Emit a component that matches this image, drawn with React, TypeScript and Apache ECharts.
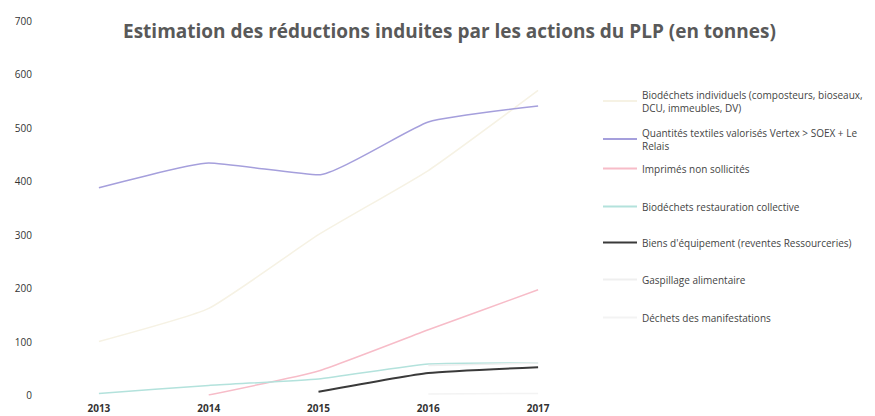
import React, { useEffect, useRef } from "react";
import * as echarts from "echarts";

const years = ["2013", "2014", "2015", "2016", "2017"];
const seriesNames = [
  "Biodéchets individuels (composteurs, bioseaux, DCU, immeubles, DV)",
  "Quantités textiles valorisés Vertex > SOEX + Le Relais",
  "Imprimés non sollicités",
  "Biodéchets restauration collective",
  "Biens d'équipement (reventes Ressourceries)",
  "Gaspillage alimentaire",
  "Déchets des manifestations",
];
const legendLabels = [
  "Biodéchets individuels (composteurs, bioseaux,\nDCU, immeubles, DV)",
  "Quantités textiles valorisés Vertex > SOEX + Le\nRelais",
  "Imprimés non sollicités",
  "Biodéchets restauration collective",
  "Biens d'équipement (reventes Ressourceries)",
  "Gaspillage alimentaire",
  "Déchets des manifestations",
];
const biodechetsIndividuels = [100, 162, 300, 420, 570];
const textiles = [388, 434, 412, 511, 541];
const imprimes = [null, 0, 45, 122, 197];
const biodechetsRestauration = [3, 18, 30, 58, 60];
const biensEquipement = [null, null, 6, 41, 52];
const gaspillage = [null, null, null, 55, 60];
const manifestations = [null, null, null, 2, 3];
const seriesData = [
  biodechetsIndividuels,
  textiles,
  imprimes,
  biodechetsRestauration,
  biensEquipement,
  gaspillage,
  manifestations,
];
const colors = ["#f6f2e4", "#a59fdc", "#f7bcc8", "#b3e2dc", "#3a3a3a", "#efefef", "#f3f3f3"];
const widths = [1.5, 1.5, 1.5, 1.5, 2, 1.5, 1.5];
const yTicks = { min: 0, max: 700, interval: 100 };
const legendTops = [88, 126, 162, 200, 236, 273, 311];

export default function App() {
  const ref = useRef<HTMLDivElement>(null);
  useEffect(() => {
    if (!ref.current) return;
    const chart = echarts.init(ref.current, null, { renderer: "svg" });
    const font = "'Open Sans', Lato, sans-serif";
    chart.setOption({
      animation: false,
      backgroundColor: "#ffffff",
      title: {
        text: "Estimation des réductions induites par les actions du PLP (en tonnes)",
        left: 123,
        top: 21,
        padding: 0,
        textStyle: { fontFamily: font, fontSize: 19, fontWeight: "bold", color: "#595959" },
      },
      legend: seriesNames.map((n, i) => ({
        data: [n],
        orient: "vertical",
        left: 603,
        top: legendTops[i],
        padding: 0,
        itemWidth: 34,
        itemHeight: 2,
        icon: "rect",
        formatter: () => legendLabels[i],
        textStyle: { fontFamily: font, fontSize: 10, color: "#444", lineHeight: 13 },
      })),
      grid: { left: 44, right: 282, top: 21, bottom: 21 },
      xAxis: {
        type: "category",
        data: years,
        boundaryGap: true,
        axisLine: { show: false },
        axisTick: { show: false },
        axisLabel: { fontFamily: font, fontSize: 10, color: "#333", fontWeight: "bold", margin: 8 },
      },
      yAxis: {
        type: "value",
        min: yTicks.min,
        max: yTicks.max,
        interval: yTicks.interval,
        splitLine: { show: false },
        axisLine: { show: false },
        axisTick: { show: false },
        axisLabel: { fontFamily: font, fontSize: 10, color: "#333", margin: 12 },
      },
      series: seriesNames.map((n, i) => ({
        name: n,
        type: "line",
        data: seriesData[i],
        symbol: "none",
        smooth: 0.15,
        connectNulls: false,
        lineStyle: { color: colors[i], width: widths[i] },
        itemStyle: { color: colors[i] },
        z: i === 1 || i === 4 ? 5 : 2,
      })),
    });
    return () => chart.dispose();
  }, []);
  return (
    <div
      ref={ref}
      style={{ position: "fixed", left: 0, top: 0, width: 875, height: 416 }}
    />
  );
}
